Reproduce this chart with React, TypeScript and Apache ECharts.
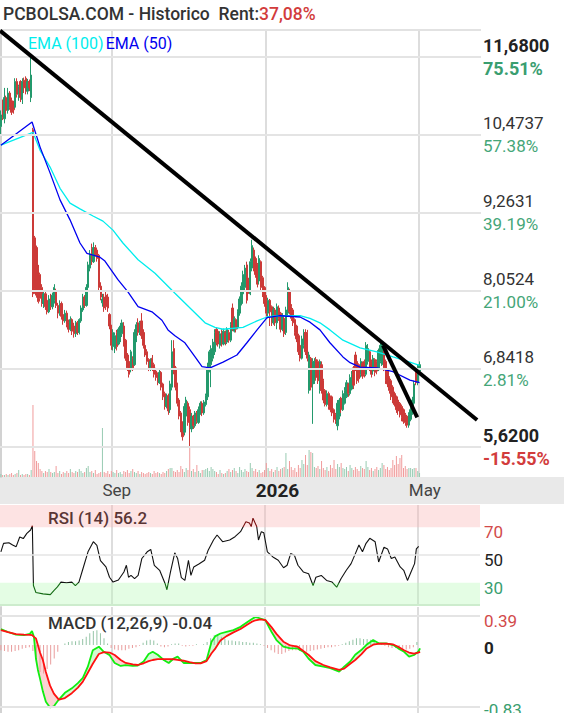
import React, { useEffect, useRef } from "react";
import * as echarts from "echarts";

const FONT = "Roboto";
const TITLE = "PCBOLSA.COM - Historico  Rent:";
const RENT = "37,08%";
const RSI_LABEL = "RSI (14) 56.2";
const MACD_LABEL = "MACD (12,26,9) -0.04";

// trading-day categories
const START_DATE = [2025, 5, 4]; // 2025-06-04
const HOLIDAYS = ["2025-12-25", "2025-12-26"];
const SLOT_COUNT = 270;
const MONTHS: Record<number, string> = { 9: "Sep", 5: "May" };

// right axis ticks of the price panel
const priceTicks = [11.68, 10.4737, 9.2631, 8.0524, 6.8418, 5.62];
const pctTicks = ["75.51%", "57.38%", "39.19%", "21.00%", "2.81%", "-15.55%"];
const PRICE_MIN = 5.154;
const PRICE_MAX = 12.1;
const rsiTicks = [70, 50, 30];
const macdTicks = [0.39, 0, -0.83];

// [open, close, low, high]
const candles: number[][] = [
  [10.60,10.78,10.48,10.85],[10.95,10.74,10.70,11.02],[10.72,11.05,10.65,11.20],[11.05,10.85,10.80,11.08],
  [10.85,11.12,10.80,11.20],[11.12,10.90,10.86,11.15],[11.00,10.82,10.78,11.05],[10.95,10.86,10.80,11.00],
  [10.90,11.30,10.88,11.35],[11.30,11.10,11.05,11.35],[11.10,11.22,11.00,11.25],[11.30,11.05,10.98,11.32],
  [11.02,11.30,10.95,11.35],[11.32,11.20,11.12,11.36],[11.35,11.15,11.10,11.38],[11.15,11.30,11.10,11.34],
  [11.30,11.20,11.15,11.33],[11.05,11.40,10.98,11.72],[10.55,8.00,7.95,10.58],[8.87,8.09,8.00,8.90],
  [8.72,7.98,7.94,8.75],[8.40,7.88,7.85,8.45],[8.30,7.93,7.88,8.33],[8.10,7.85,7.80,8.15],
  [7.85,8.00,7.78,8.05],[8.00,7.80,7.75,8.05],[7.90,7.72,7.68,7.95],[7.72,7.92,7.70,7.98],
  [7.95,7.80,7.75,8.00],[7.80,7.98,7.76,8.02],[7.90,8.10,7.85,8.15],[8.05,7.82,7.78,8.08],
  [7.82,7.70,7.62,7.86],[7.70,7.85,7.66,7.90],[7.85,7.65,7.60,7.88],[7.68,7.58,7.52,7.72],
  [7.58,7.70,7.55,7.75],[7.70,7.52,7.48,7.74],[7.55,7.45,7.40,7.60],[7.45,7.60,7.42,7.65],
  [7.60,7.42,7.36,7.62],[7.50,7.38,7.32,7.55],[7.38,7.55,7.33,7.58],[7.55,7.40,7.36,7.58],
  [7.40,7.60,7.37,7.62],[7.58,7.78,7.55,7.82],[7.75,7.95,7.72,8.00],[7.95,7.82,7.78,7.98],
  [7.82,8.10,7.80,8.15],[8.10,8.45,8.05,8.50],[8.40,8.62,8.35,8.68],[8.70,8.50,8.45,8.78],
  [8.50,8.72,8.48,8.80],[8.72,8.62,8.58,8.76],[8.68,8.55,8.50,8.72],[8.60,8.10,8.05,8.62],
  [8.12,7.95,7.90,8.18],[7.86,7.92,7.80,8.00],[7.95,7.78,7.72,8.00],[7.98,7.80,7.75,8.03],
  [7.95,7.78,7.72,8.00],[7.68,7.50,7.45,7.70],[7.50,7.20,7.13,7.52],[7.18,7.40,7.12,7.45],
  [7.15,7.35,7.08,7.40],[7.40,7.18,7.12,7.44],[7.22,7.45,7.20,7.48],[7.30,7.50,7.25,7.55],
  [7.38,7.55,7.33,7.60],[7.50,7.22,7.18,7.56],[7.28,7.00,6.96,7.30],[7.05,6.85,6.80,7.08],
  [6.95,6.75,6.70,6.98],[6.82,7.10,6.78,7.13],[7.00,6.85,6.80,7.03],[6.90,7.40,6.88,7.45],
  [7.30,7.52,7.25,7.56],[7.55,7.40,7.35,7.62],[7.40,7.55,7.36,7.58],[7.58,7.35,7.30,7.70],
  [7.40,7.20,7.15,7.45],[7.20,7.05,7.02,7.25],[7.10,6.95,6.90,7.14],[6.98,6.85,6.80,7.00],
  [6.85,6.95,6.80,7.00],[7.00,6.85,6.80,7.05],[6.90,6.75,6.70,6.93],[6.80,6.70,6.65,6.85],
  [6.75,6.62,6.58,6.78],[6.62,6.78,6.60,6.82],[6.78,6.55,6.50,6.80],[6.60,6.40,6.35,6.62],
  [6.45,6.25,6.20,6.48],[6.25,6.40,6.22,6.45],[6.42,6.18,6.12,6.45],[6.20,6.60,6.15,6.65],
  [6.55,7.10,6.50,7.28],[7.15,6.80,6.75,7.28],[6.85,6.55,6.50,6.88],[6.60,6.30,6.25,6.62],
  [6.35,6.10,6.05,6.38],[6.15,5.90,5.85,6.18],[6.00,5.78,5.72,6.02],[5.85,6.25,5.80,6.30],
  [6.10,6.35,6.05,6.40],[6.30,6.00,5.95,6.33],[6.20,5.92,5.62,6.25],[5.90,6.10,5.85,6.15],
  [6.10,5.95,5.90,6.12],[5.95,6.15,5.92,6.18],[6.15,6.02,5.98,6.18],[6.00,6.20,5.98,6.25],
  [6.15,6.30,6.12,6.33],[6.30,6.15,6.10,6.33],[6.15,6.32,6.12,6.35],[6.28,6.42,6.25,6.45],
  [6.40,6.85,6.35,6.93],[6.82,7.10,6.78,7.13],[6.90,7.15,6.55,7.20],[7.00,7.25,6.95,7.30],
  [7.10,7.40,7.05,7.45],[7.45,7.25,7.20,7.48],[7.42,7.22,7.18,7.45],[7.20,7.38,7.15,7.42],
  [7.40,7.22,7.18,7.45],[7.22,7.42,7.20,7.46],[7.40,7.25,7.20,7.43],[7.25,7.45,7.22,7.48],
  [7.40,7.28,7.24,7.44],[7.28,7.52,7.25,7.56],[7.78,7.45,7.42,7.85],[7.42,7.62,7.40,7.65],
  [7.60,7.45,7.40,7.62],[7.48,7.72,7.45,7.76],[7.70,7.92,7.66,7.96],[7.85,8.12,7.82,8.18],
  [8.00,8.30,7.96,8.36],[8.10,8.40,8.05,8.45],[8.45,7.90,7.85,8.50],[8.20,8.05,8.00,8.25],
  [8.00,8.50,7.98,8.55],[8.40,8.75,8.35,8.84],[8.68,8.40,8.35,8.72],[8.55,8.30,8.25,8.58],
  [8.45,8.15,8.10,8.48],[8.20,8.55,8.15,8.60],[8.50,8.10,8.05,8.52],[8.25,8.00,7.95,8.28],
  [8.10,7.85,7.80,8.12],[7.95,7.70,7.65,7.98],[7.70,7.90,7.62,7.94],[7.90,7.72,7.50,7.92],
  [7.80,7.55,7.50,7.82],[7.55,7.75,7.52,7.80],[7.75,7.55,7.50,7.78],[7.55,7.80,7.45,7.85],
  [7.78,7.62,7.58,7.82],[7.70,7.45,7.40,7.72],[7.45,7.65,7.42,7.70],[7.62,7.38,7.33,7.65],
  [7.40,7.75,7.36,7.80],[7.70,8.10,7.65,8.18],[8.05,7.72,7.68,8.08],[7.80,7.62,7.58,7.84],
  [7.75,7.55,7.50,7.78],[7.60,7.40,7.35,7.62],[7.50,7.30,7.25,7.52],[7.35,7.10,7.05,7.38],
  [7.20,7.00,6.95,7.22],[7.00,7.30,6.98,7.35],[7.20,7.40,7.15,7.45],[7.40,7.10,7.05,7.45],
  [7.40,7.00,6.95,7.44],[6.50,7.05,6.45,7.10],[7.00,6.55,6.50,7.02],[6.60,6.95,5.98,7.00],
  [6.70,6.95,6.60,7.00],[6.98,6.70,6.65,7.02],[6.95,6.65,6.60,6.98],[6.50,6.95,6.45,6.98],
  [6.90,6.50,6.45,6.95],[6.65,6.35,6.30,6.68],[6.50,6.28,6.25,6.52],[6.28,6.45,6.25,6.50],
  [6.45,6.25,6.20,6.48],[6.40,6.20,6.16,6.42],[6.40,6.15,6.10,6.42],[6.20,6.05,6.00,6.22],
  [6.12,6.02,5.98,6.15],[5.95,6.30,5.88,6.35],[6.10,6.35,6.05,6.38],[6.38,6.20,6.15,6.40],
  [6.20,6.45,6.18,6.50],[6.30,6.50,6.28,6.55],[6.40,6.62,6.38,6.66],[6.60,6.45,6.40,6.62],
  [6.45,6.70,6.42,6.75],[6.52,6.75,6.50,6.80],[6.85,6.58,6.52,6.88],[7.05,6.85,6.80,7.10],
  [6.95,6.65,6.60,6.98],[6.90,6.68,6.62,6.92],[6.75,6.95,6.70,7.00],[6.92,6.72,6.68,6.95],
  [6.95,6.75,6.70,6.98],[6.75,7.20,6.72,7.25],[6.95,7.15,6.90,7.22],[7.10,6.85,6.80,7.12],
  [6.95,6.75,6.70,6.98],[6.80,7.00,6.75,7.05],[6.98,6.78,6.72,7.00],[6.95,6.80,6.75,6.98],
  [6.82,7.12,6.80,7.15],[6.95,7.20,6.92,7.25],[6.90,7.22,6.88,7.28],[7.15,6.85,6.80,7.20],
  [6.95,6.65,6.60,6.98],[6.80,6.60,6.55,6.82],[6.70,6.50,6.45,6.72],[6.65,6.40,6.35,6.68],
  [6.55,6.35,6.30,6.58],[6.45,6.28,6.25,6.48],[6.40,6.20,6.15,6.42],[6.35,6.18,6.12,6.38],
  [6.30,6.12,6.08,6.32],[6.25,6.08,6.02,6.28],[6.20,6.02,5.98,6.22],[6.12,6.00,5.95,6.15],
  [6.10,5.96,5.92,6.12],[5.96,6.12,5.92,6.16],[6.05,6.20,6.02,6.24],[6.15,6.35,6.12,6.40],
  [6.30,6.60,6.25,6.65],[6.80,6.62,6.58,6.85],[6.62,6.85,6.58,6.90],[6.80,6.90,6.75,6.95],
];

// volume, thousands of shares
const volume = [
  3,2,2,3,2,3,4,2,3,4,7,2,3,2,3,3,2,7,
  72,26,16,14,8,6,4,6,5,8,5,4,5,11,4,6,3,5,4,6,4,8,5,4,6,5,8,6,4,5,9,11,5,6,4,7,3,4,5,49,
  5,4,6,3,6,5,4,7,4,5,3,6,5,7,4,6,8,5,4,6,3,5,4,3,4,5,4,3,6,4,5,4,3,5,4,6,8,9,9,6,5,7,5,11,8,5,9,7,31,6,8,5,12,6,4,7,7,8,9,6,
  10,8,6,5,3,7,4,3,4,6,8,5,7,9,6,4,10,7,5,8,6,5,14,9,6,8,5,7,4,5,7,14,9,6,8,5,7,10,6,8,9,10,
  24,8,16,10,7,9,5,12,9,17,13,22,12,27,25,24,10,9,11,8,16,9,7,10,6,12,9,17,8,13,10,14,9,8,10,6,12,9,7,10,
  8,6,11,9,8,16,10,7,9,6,8,10,7,9,14,12,8,10,7,9,17,12,21,13,19,22,9,11,8,9,9,8,9,9,6,4,
];

// [slot, value]
const ema100: number[][] = [
  [0,10.31],[18,10.51],[22,10.23],[27.6,9.97],[33.2,9.64],[38.8,9.41],[44.4,9.32],[51.7,9.21],[57.3,9.13],
  [62.9,8.99],[68.5,8.79],[77,8.53],[86.5,8.32],[97.7,8.01],[107.3,7.75],[114.6,7.55],[120.2,7.48],[124.7,7.45],
  [135.9,7.48],[143.8,7.58],[149.4,7.64],[155,7.66],[167.9,7.66],[173.5,7.62],[179.1,7.55],[184.7,7.44],
  [192,7.28],[201.6,7.16],[211.1,7.10],[220.1,7.02],[229.6,6.94],[235,6.89],
];
const ema50: number[][] = [
  [0,10.31],[17.5,10.67],[22,10.28],[27.6,9.88],[33.2,9.46],[38.8,9.15],[44.4,8.79],[48.3,8.63],[55.6,8.57],
  [58.4,8.51],[65.7,8.22],[71.3,8.03],[77,7.80],[84.8,7.72],[90.4,7.59],[93.8,7.44],[97.7,7.35],[103.3,7.24],
  [109,7.02],[112.9,6.87],[117.4,6.85],[124.7,6.94],[132.5,7.05],[138.1,7.24],[143.8,7.44],[149.4,7.63],
  [156.7,7.66],[167.9,7.64],[173.5,7.56],[179.1,7.44],[184.7,7.24],[192,7.02],[196,6.93],[201.6,6.86],
  [211.1,6.85],[220.1,6.79],[229.6,6.66],[235,6.62],
];
const trendLong: number[][] = [[-0.5, 12.09], [267.3, 6.04]];
const trendShort: number[][] = [[214.5, 7.2], [233.7, 6.08]];

const rsi: number[][] = [
  [0,52.3],[1.5,58.4],[4.5,58.8],[6.6,57.2],[8.6,56],[10.6,63],[12.6,61.8],[14.6,65.6],[16.7,68],[17.7,71],
  [18.3,28],[19.7,23],[23.7,22],[27.8,21.5],[29.8,24.4],[31.8,27],[33.8,30.5],[36.9,30],[39.9,30.5],[41.9,28],
  [43.9,30.5],[45.9,39],[49,52.3],[52,59.6],[54,57],[56,46],[59.1,41.4],[61.1,34],[63.1,30.5],[66.1,32],
  [69.2,37.8],[70.6,42.6],[71.8,34],[73.2,35.3],[75.2,33],[77.2,35.3],[79.3,47.5],[82.3,52.3],[84.3,54],
  [86.3,42.6],[89.3,39],[92.4,29.3],[93.4,25],[95.4,37.8],[97.8,51.6],[99.4,47.5],[101.5,33.7],[103.5,31.7],
  [105.5,46.2],[106.9,35.3],[108.5,41.4],[111.6,43.7],[114.6,46.2],[116.6,53.5],[119.6,60.8],[121.6,64.4],
  [124.7,59.6],[128.7,60.8],[131.7,63.2],[134.8,66.8],[137.8,74],[139.8,73],[140.8,70.5],[141.8,76.5],
  [143.9,70.5],[144.9,60.8],[146.5,66.8],[147.9,66],[149.9,52.3],[153,48.6],[156,46.2],[159,40.8],[161,42.6],
  [163,51],[165.1,49.8],[167.1,42.6],[170.1,37.8],[173.1,36.5],[175.6,28],[177.2,34],[180.2,35.3],[183.2,31.7],
  [186.3,30.5],[188.9,26.8],[191.3,32.9],[194.3,39],[197,43.8],[199.4,51],[201.4,57.2],[203.4,52.3],
  [205.4,58.4],[207.5,62],[210.5,59.6],[212.5,45],[215.5,55.6],[217.5,54.4],[219.6,47.5],[221.6,48.6],
  [224.6,41.4],[226.6,39],[228.7,31.7],[230.7,37.8],[232.7,43.8],[233.7,54.4],[235,56.2],
];

// [slot, macd, signal]
const macd: number[][] = [
  [0,0.213,0.200],[4.0,0.175,0.172],[8.5,0.140,0.146],[13.0,0.134,0.140],[16.3,0.150,0.136],[17.5,0.187,0.133],
  [18.6,0.110,0.110],[19.7,-0.180,0.090],[20.8,-0.330,0.000],[22.0,-0.450,-0.100],[23.6,-0.620,-0.200],
  [25.3,-0.760,-0.360],[27.6,-0.836,-0.540],[29.8,-0.820,-0.650],[32.6,-0.730,-0.730],[36.0,-0.640,-0.710],
  [39.9,-0.580,-0.644],[43.3,-0.510,-0.570],[46.1,-0.440,-0.490],[48.9,-0.290,-0.370],[51.7,-0.070,-0.250],
  [55.1,-0.022,-0.120],[57.9,-0.090,-0.095],[61.2,-0.135,-0.100],[64.0,-0.240,-0.133],[67.4,-0.280,-0.200],
  [70.2,-0.270,-0.240],[74.2,-0.280,-0.258],[77.0,-0.275,-0.267],[80.3,-0.220,-0.244],[83.1,-0.120,-0.215],
  [85.4,-0.090,-0.200],[88.2,-0.130,-0.187],[91.6,-0.200,-0.187],[94.4,-0.240,-0.187],[97.2,-0.180,-0.190],
  [99.4,-0.155,-0.197],[102.8,-0.240,-0.210],[106.1,-0.240,-0.228],[109.5,-0.240,-0.244],[112.3,-0.240,-0.244],
  [115.7,-0.200,-0.215],[118.5,0.044,-0.110],[120.7,0.120,-0.044],[123.5,0.155,0.060],[126.9,0.178,0.120],
  [130.8,0.200,0.170],[134.8,0.244,0.215],[138.7,0.310,0.275],[141.0,0.347,0.310],[143.2,0.378,0.332],
  [146.0,0.356,0.345],[148.8,0.333,0.333],[152.2,0.178,0.240],[155.0,0.067,0.150],[158.9,-0.022,0.045],
  [162.8,-0.044,-0.005],[166.8,-0.044,-0.020],[170.1,-0.090,-0.080],[173.0,-0.180,-0.130],[176.9,-0.267,-0.215],
  [181.4,-0.290,-0.267],[185.3,-0.310,-0.300],[190.3,-0.356,-0.333],[193.1,-0.290,-0.315],[196.5,-0.220,-0.250],
  [199.3,-0.130,-0.200],[202.7,-0.067,-0.125],[205.5,0.000,-0.050],[209.4,0.067,0.005],[212.8,0.022,0.020],
  [216.7,0.022,0.018],[220.7,0.000,0.008],[223.5,-0.044,-0.022],[226.8,-0.090,-0.070],[229.6,-0.156,-0.100],
  [232.4,-0.133,-0.115],[234.7,-0.090,-0.100],[235.8,-0.044,-0.090],
];

// MACD histogram, one bar every HIST_STEP slots
const HIST_STEP = 2;
const histogram = [
  -0.07,-0.08,-0.09,-0.09,-0.08,-0.07,-0.05,-0.04,-0.03,-0.08,
  -0.22,-0.36,-0.38,-0.32,-0.26,-0.18,-0.09,0.0,0.02,0.04,
  0.05,0.05,0.06,0.08,0.11,0.16,0.19,0.20,0.16,0.09,
  0.02,-0.04,-0.06,-0.07,-0.07,-0.07,-0.05,-0.04,-0.03,-0.01,
  0.03,0.06,0.07,0.06,0.02,-0.02,-0.03,-0.02,0.01,0.02,
  0.02,-0.01,-0.02,-0.01,-0.01,0.01,0.00,0.01,0.04,0.09,
  0.13,0.13,0.11,0.08,0.06,0.06,0.05,0.05,0.04,0.04,
  0.03,0.03,0.02,0.01,-0.01,-0.04,-0.07,-0.10,-0.12,-0.12,
  -0.10,-0.08,-0.07,-0.07,-0.08,-0.09,-0.09,-0.08,-0.07,-0.06,
  -0.05,-0.04,-0.03,-0.03,-0.02,-0.01,0.01,0.03,0.05,0.07,
  0.09,0.09,0.08,0.08,0.07,0.06,0.04,0.01,-0.01,-0.03,
  -0.04,-0.04,-0.05,-0.05,-0.06,-0.05,-0.03,0.04,
];

const UP = "#23996c";
const DOWN = "#cc3a38";
const VOL_UP = "#98cbb2";
const VOL_DOWN = "#f09c9c";
const EMA100_C = "#00eded";
const EMA50_C = "#0000f0";
const GRID_C = "#e4e4e4";
const PCT_GREEN = "#3a9e70";
const RED_TXT = "#d23c3c";

function buildDates(): string[] {
  const out: string[] = [];
  const d = new Date(Date.UTC(START_DATE[0], START_DATE[1], START_DATE[2]));
  while (out.length < SLOT_COUNT) {
    const wd = d.getUTCDay();
    const s = d.toISOString().slice(0, 10);
    if (wd !== 0 && wd !== 6 && !HOLIDAYS.includes(s)) out.push(s);
    d.setUTCDate(d.getUTCDate() + 1);
  }
  return out;
}

function buildOption() {
  const dates = buildDates();
  const lineSet = new Set<number>();
  for (let k = 1; k < dates.length; k++) {
    const m = +dates[k].slice(5, 7);
    const pm = +dates[k - 1].slice(5, 7);
    if (m !== pm && (m === 9 || m === 1 || m === 5)) lineSet.add(k);
  }
  const LABEL_SHIFT = 6;
  const labelSet = new Set<number>([...lineSet].map((k) => k - LABEL_SHIFT));

  const splitLine = {
    show: true,
    showMaxLine: false,
    interval: (i: number) => lineSet.has(i),
    lineStyle: { color: "#dddddd", width: 2 },
  };
  const catAxis = (gridIndex: number, extra: any = {}) => ({
    type: "category",
    gridIndex,
    data: dates,
    boundaryGap: true,
    axisLine: { show: false },
    axisTick: { show: false },
    axisLabel: { show: false },
    splitLine: { show: false },
    ...extra,
  });
  const valAxis = (gridIndex: number) => ({
    type: "value",
    gridIndex,
    min: -0.5,
    max: SLOT_COUNT - 0.5,
    show: false,
  });

  const priceLines: any[] = priceTicks.map((v, k) => {
    const bold = k === 0 || k === priceTicks.length - 1;
    const priceCls = bold ? "pb" : "pn";
    const pctCls = k === priceTicks.length - 1 ? "rb" : bold ? "gb" : "gn";
    const txt = v.toFixed(4).replace(".", ",");
    return {
      yAxis: v,
      label: { formatter: `{${priceCls}|${txt}}\n{${pctCls}|${pctTicks[k]}}` },
    };
  });
  priceLines.push({ yAxis: PRICE_MAX, label: { show: false }, lineStyle: { color: "#e2e2e2", width: 2 } });

  const volData = volume.map((v, i) => {
    const c = candles[i];
    return { value: v, itemStyle: { color: c[1] >= c[0] ? VOL_UP : VOL_DOWN } };
  });

  const histData = histogram.map((v, k) => ({
    value: [k * HIST_STEP, v],
    itemStyle: { color: v >= 0 ? "#94c4a6" : "#e99c9c" },
  }));

  const bandData: number[][] = [];
  for (let k = 0; k < macd.length - 1; k++) {
    const a = macd[k];
    const b = macd[k + 1];
    bandData.push([a[0], a[1], a[2], b[0], b[1], b[2]]);
  }

  const rich17 = (color: string, bold = false, size = 17) => ({
    fontSize: size,
    fontFamily: FONT,
    fontWeight: bold ? "bold" : "normal",
    color,
    lineHeight: 23,
  });

  const series: any[] = [
    {
      name: "grid",
      type: "line",
      xAxisIndex: 1,
      yAxisIndex: 0,
      data: [[0, PRICE_MAX]],
      showSymbol: false,
      symbol: "none",
      lineStyle: { opacity: 0 },
      z: 1,
      silent: true,
      markLine: {
        silent: true,
        symbol: ["none", "none"],
        animation: false,
        lineStyle: { color: GRID_C, width: 2, type: "solid" },
        label: {
          show: true,
          position: "end",
          distance: 2,
          rich: {
            pb: rich17("#222", true, 18),
            pn: rich17("#333"),
            gb: rich17(PCT_GREEN, true, 18),
            gn: rich17("#45a678"),
            rb: rich17(RED_TXT, true, 18),
          },
        },
        data: priceLines,
      },
    },
    {
      name: "Precio",
      type: "candlestick",
      xAxisIndex: 0,
      yAxisIndex: 0,
      data: candles,
      barWidth: 1.8,
      z: 3,
      itemStyle: { color: UP, color0: DOWN, borderColor: UP, borderColor0: DOWN, borderWidth: 1 },
    },
    {
      name: "EMA (100)",
      type: "line",
      xAxisIndex: 1,
      yAxisIndex: 0,
      data: ema100,
      showSymbol: false,
      symbol: "none",
      color: EMA100_C,
      lineStyle: { color: EMA100_C, width: 1.3 },
      z: 4,
    },
    {
      name: "EMA (50)",
      type: "line",
      xAxisIndex: 1,
      yAxisIndex: 0,
      data: ema50,
      showSymbol: false,
      symbol: "none",
      color: EMA50_C,
      lineStyle: { color: EMA50_C, width: 1.3 },
      z: 4,
    },
    {
      name: "trend1",
      type: "line",
      xAxisIndex: 1,
      yAxisIndex: 0,
      data: trendLong,
      showSymbol: false,
      symbol: "none",
      lineStyle: { color: "#000", width: 4 },
      z: 5,
    },
    {
      name: "trend2",
      type: "line",
      xAxisIndex: 1,
      yAxisIndex: 0,
      data: trendShort,
      showSymbol: false,
      symbol: "none",
      lineStyle: { color: "#000", width: 4 },
      z: 5,
    },
    {
      name: "Volumen",
      type: "bar",
      xAxisIndex: 2,
      yAxisIndex: 1,
      data: volData,
      barWidth: 1,
      z: 2,
    },
    {
      name: "RSI",
      type: "line",
      xAxisIndex: 4,
      yAxisIndex: 2,
      data: rsi,
      showSymbol: false,
      symbol: "none",
      lineStyle: { width: 1.1 },
      z: 4,
      markArea: {
        silent: true,
        data: [
          [{ yAxis: 70, itemStyle: { color: "rgba(250,185,185,0.4)" } }, { yAxis: 86 }],
          [{ yAxis: 14, itemStyle: { color: "rgba(185,250,185,0.38)" } }, { yAxis: 30 }],
        ],
      },
      markLine: {
        silent: true,
        symbol: ["none", "none"],
        animation: false,
        lineStyle: { color: "#e4e4e4", width: 1.5, type: "solid" },
        label: {
          show: true,
          position: "end",
          distance: 4,
          padding: [10, 0, 0, 0],
          rich: {
            r: rich17("#d24a4a"),
            k: rich17("#222"),
            g: rich17(PCT_GREEN),
          },
        },
        data: [
          { yAxis: rsiTicks[0], lineStyle: { color: "rgba(0,0,0,0)" }, label: { formatter: `{r|${rsiTicks[0]}}` } },
          { yAxis: rsiTicks[1], label: { formatter: `{k|${rsiTicks[1]}}` } },
          { yAxis: rsiTicks[2], lineStyle: { color: "rgba(0,0,0,0)" }, label: { formatter: `{g|${rsiTicks[2]}}` } },
          { yAxis: 14.3, lineStyle: { color: "#cdeccd", width: 2 }, label: { show: false } },
        ],
      },
    },
    {
      name: "band",
      type: "custom",
      xAxisIndex: 6,
      yAxisIndex: 3,
      data: bandData,
      encode: { x: [0, 3], y: [1, 2, 4, 5] },
      z: 1,
      silent: true,
      renderItem: (params: any, api: any) => {
        const x0 = api.value(0), m0 = api.value(1), s0 = api.value(2);
        const x1 = api.value(3), m1 = api.value(4), s1 = api.value(5);
        const pts = [api.coord([x0, m0]), api.coord([x1, m1]), api.coord([x1, s1]), api.coord([x0, s0])];
        const up = m0 + m1 >= s0 + s1;
        return {
          type: "polygon",
          shape: { points: pts },
          style: { fill: up ? "#d3fbd3" : "#fbd3d3", stroke: up ? "#d3fbd3" : "#fbd3d3", lineWidth: 0.5 },
        };
      },
    },
    {
      name: "hist",
      type: "bar",
      xAxisIndex: 6,
      yAxisIndex: 3,
      data: histData,
      barWidth: 1,
      z: 2,
    },
    {
      name: "MACD",
      type: "line",
      xAxisIndex: 6,
      yAxisIndex: 3,
      data: macd.map((p) => [p[0], p[1]]),
      showSymbol: false,
      symbol: "none",
      lineStyle: { color: "#11ee11", width: 1.8 },
      z: 4,
    },
    {
      name: "Signal",
      type: "line",
      xAxisIndex: 6,
      yAxisIndex: 3,
      data: macd.map((p) => [p[0], p[2]]),
      showSymbol: false,
      symbol: "none",
      lineStyle: { color: "#ff1111", width: 1.8 },
      z: 4,
      markLine: {
        silent: true,
        symbol: ["none", "none"],
        animation: false,
        lineStyle: { color: GRID_C, width: 2, type: "solid" },
        label: {
          show: true,
          position: "end",
          distance: 4,
          rich: {
            r: rich17("#d24a4a"),
            k: rich17("#222", true),
            g: rich17(PCT_GREEN),
          },
        },
        data: [
          { yAxis: macdTicks[0], label: { padding: [10, 0, 0, 0], formatter: `{r|${macdTicks[0]}}` } },
          { yAxis: macdTicks[1], lineStyle: { color: "rgba(0,0,0,0)" }, label: { padding: [6, 0, 0, 0], formatter: `{k|${macdTicks[1]}}` } },
          { yAxis: macdTicks[2], label: { padding: [6, 0, 0, 0], formatter: `{g|${macdTicks[2]}}` } },
        ],
      },
    },
  ];

  const rsiIndex = series.findIndex((s) => s.name === "RSI");

  return {
    animation: false,
    backgroundColor: "#fff",
    textStyle: { fontFamily: FONT },
    title: [
      {
        left: 3,
        top: 5,
        padding: 0,
        text: `{a|${TITLE}}{b|${RENT}}`,
        textStyle: {
          rich: {
            a: { fontSize: 17.5, fontWeight: 500, color: "#333", fontFamily: FONT },
            b: { fontSize: 17.5, fontWeight: 500, color: RED_TXT, fontFamily: FONT },
          },
        },
      },
      {
        left: 48,
        top: 509,
        padding: 0,
        text: RSI_LABEL,
        textStyle: { fontSize: 17, fontWeight: 500, color: "#5a3535", fontFamily: FONT },
      },
      {
        left: 48,
        top: 614,
        padding: 0,
        text: MACD_LABEL,
        textStyle: { fontSize: 17, fontWeight: 500, color: "#333", fontFamily: FONT },
      },
    ],
    legend: {
      left: 22,
      top: 35,
      padding: 0,
      itemWidth: 0,
      itemHeight: 0,
      itemGap: -4,
      selectedMode: false,
      textStyle: { fontSize: 16, fontFamily: FONT },
      data: [
        { name: "EMA (100)", textStyle: { color: EMA100_C } },
        { name: "EMA (50)", textStyle: { color: EMA50_C } },
      ],
    },
    graphic: [
      {
        type: "rect",
        z: -10,
        silent: true,
        shape: { x: 0, y: 477, width: 564, height: 27 },
        style: { fill: "#e9e9e9" },
      },
    ],
    grid: [
      { left: 0, top: 30, width: 481, height: 447 },
      { left: 0, top: 377, width: 481, height: 100 },
      { left: 0, top: 505, width: 480, height: 100 },
      { left: 0, top: 607, width: 480, height: 106 },
    ],
    xAxis: [
      catAxis(0, { splitLine }),
      valAxis(0),
      catAxis(1, {
        axisLabel: {
          show: true,
          interval: (i: number) => labelSet.has(i),
          align: "left",
          margin: 4,
          formatter: (_v: string, i: number) => {
            const d = dates[i + LABEL_SHIFT];
            const m = +d.slice(5, 7);
            return m === 1 ? `{y|${d.slice(0, 4)}}` : `{m|${MONTHS[m]}}`;
          },
          rich: {
            y: { fontSize: 19, fontWeight: "bold", color: "#222", fontFamily: FONT },
            m: { fontSize: 17, color: "#444", fontFamily: FONT },
          },
        },
      }),
      catAxis(2, { splitLine }),
      valAxis(2),
      catAxis(3, { splitLine }),
      valAxis(3),
    ],
    yAxis: [
      {
        type: "value",
        gridIndex: 0,
        min: PRICE_MIN,
        max: PRICE_MAX,
        position: "right",
        axisLine: { show: true, lineStyle: { color: "#d2d2d2", width: 2 } },
        axisTick: { show: false },
        axisLabel: { show: false },
        splitLine: { show: false },
      },
      { type: "value", gridIndex: 1, min: 0, max: 100, show: false },
      { type: "value", gridIndex: 2, min: 14, max: 86, show: false },
      {
        type: "value",
        gridIndex: 3,
        min: -0.91,
        max: 0.51,
        position: "right",
        axisLine: { show: true, lineStyle: { color: "#d2d2d2", width: 2 } },
        axisTick: { show: false },
        axisLabel: { show: false },
        splitLine: { show: false },
      },
    ],
    visualMap: [
      {
        type: "piecewise",
        show: false,
        seriesIndex: rsiIndex,
        dimension: 1,
        pieces: [
          { lt: 30, color: "#156b15" },
          { gte: 30, lte: 70, color: "#111111" },
          { gt: 70, color: "#7a0f0f" },
        ],
      },
    ],
    series,
  };
}

export default function App() {
  const ref = useRef<HTMLDivElement>(null);
  useEffect(() => {
    document.body.style.margin = "0";
    const chart = echarts.init(ref.current!, undefined, { renderer: "svg" });
    chart.setOption(buildOption() as any);
    return () => chart.dispose();
  }, []);
  return <div ref={ref} style={{ position: "absolute", left: 0, top: 0, width: 564, height: 713 }} />;
}
